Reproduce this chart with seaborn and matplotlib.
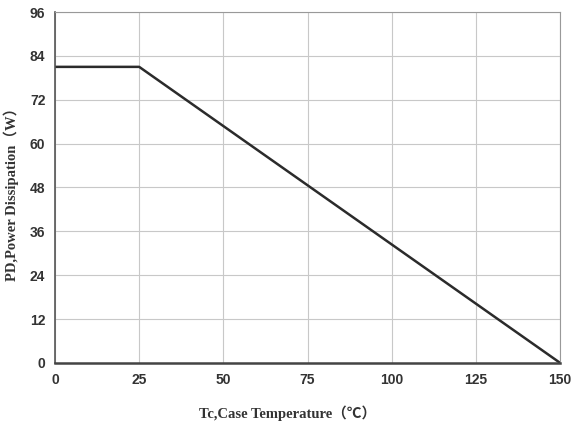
import matplotlib
matplotlib.use('Agg')
import matplotlib.pyplot as plt
import seaborn as sns
import pandas as pd

# Power derating curve
case_temp = [0, 25, 150]
power_w = [81, 81, 0]
x_ticks = [0, 25, 50, 75, 100, 125, 150]
y_ticks = [0, 12, 24, 36, 48, 60, 72, 84, 96]

sns.set_theme(style="white")
label_font = ['Liberation Serif', 'Noto Sans CJK SC', 'DejaVu Sans']
plt.rcParams['font.family'] = label_font

fig = plt.figure(figsize=(5.76, 4.30), dpi=100)
ax = fig.add_axes([0.0955, 0.156, 0.877, 0.816])

df = pd.DataFrame({"temp": case_temp, "power": power_w})
sns.lineplot(data=df, x="temp", y="power", ax=ax, color="#2b2b2b", linewidth=1.8)

ax.set_xlim(0, 150)
ax.set_ylim(0, 96)
ax.set_xticks(x_ticks)
ax.set_yticks(y_ticks)
ax.grid(True, color="#c8c8c8", linewidth=0.8)
ax.set_axisbelow(True)

for side in ["top", "right"]:
    ax.spines[side].set_color("#999999")
    ax.spines[side].set_linewidth(0.8)
ax.spines["left"].set_color("#555555")
ax.spines["left"].set_linewidth(1.2)
ax.spines["bottom"].set_color("#444444")
ax.spines["bottom"].set_linewidth(1.8)

ax.tick_params(axis="both", direction="out", length=4, width=1, color="#555555",
               labelsize=10, labelcolor="#333333", pad=3)
for lbl in ax.get_xticklabels() + ax.get_yticklabels():
    lbl.set_fontweight("bold")
    lbl.set_family(['Liberation Sans Narrow', 'Liberation Sans', 'DejaVu Sans'])

ax.set_xlabel("Tc,Case Temperature（℃）", fontsize=10.5, fontweight="bold",
              color="#333333", family=label_font)
ax.set_ylabel("PD,Power Dissipation（W）", fontsize=10.5, fontweight="bold",
              color="#333333", family=label_font)
ax.xaxis.set_label_coords(0.46, -0.12)
ax.yaxis.set_label_coords(-0.072, 0.49)

fig.savefig("out.png", dpi=100)
plt.close(fig)
